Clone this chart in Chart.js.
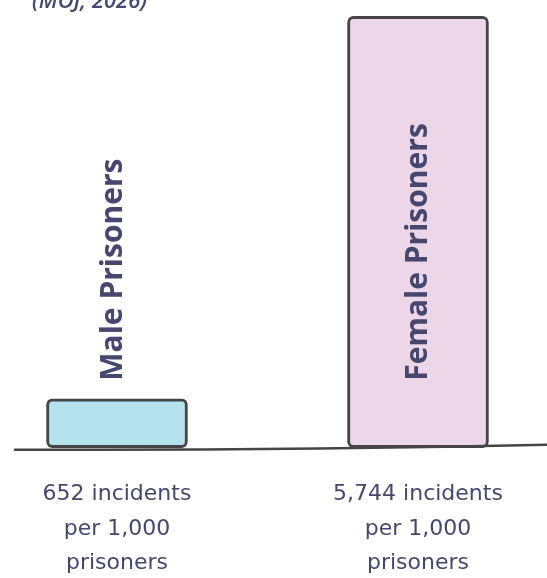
<!DOCTYPE html>
<html>
<head>
<meta charset="utf-8">
<script src="https://cdn.jsdelivr.net/npm/chart.js@4"></script>
<style>
  html, body { margin: 0; padding: 0; background: #fff; }
  #wrap { width: 547px; height: 578px; }
</style>
</head>
<body>
<div id="wrap"><canvas id="myChart"></canvas></div>
<script>
var categories = ['Male Prisoners', 'Female Prisoners'];
var incidentsPer1000 = [652, 5744];
var barColours = ['#b4e3ee', '#ecd6e7'];
var sourceNote = '(MOJ, 2026)';

var inkColour = '#45476f';
var lineColour = '#454545';

// labels under each bar, built from the values
var tickLines = incidentsPer1000.map(function (v) {
    return [v.toLocaleString('en-GB') + ' incidents', 'per 1,000', 'prisoners'];
});

var sketchPlugin = {
    id: 'sketch',
    afterDatasetsDraw: function (chart) {
        var ctx = chart.ctx;
        var y0 = chart.scales.y.getPixelForValue(0);

        // ground line
        ctx.save();
        ctx.strokeStyle = lineColour;
        ctx.lineWidth = 2.5;
        ctx.lineCap = 'round';
        ctx.beginPath();
        ctx.moveTo(15, y0 + 2);
        ctx.quadraticCurveTo(280, y0 + 3, 547, y0 - 3);
        ctx.stroke();
        ctx.restore();

        // names written up the bars
        var bars = chart.getDatasetMeta(0).data;
        ctx.save();
        ctx.fillStyle = inkColour;
        ctx.font = 'bold 30px "Open Sans"';
        ctx.textAlign = 'left';
        ctx.textBaseline = 'middle';
        bars.forEach(function (bar, i) {
            ctx.save();
            ctx.translate(bar.x - 4 + i * 4, y0 - 67);
            ctx.rotate(-Math.PI / 2);
            ctx.fillText(categories[i], 0, 0);
            ctx.restore();
        });
        ctx.restore();

        // source note, cut at the top edge
        ctx.save();
        ctx.fillStyle = inkColour;
        ctx.font = 'italic 600 22px "Open Sans"';
        ctx.textAlign = 'left';
        ctx.textBaseline = 'alphabetic';
        ctx.fillText(sourceNote, 32, 8);
        ctx.restore();
    }
};

new Chart('myChart', {
    type: 'bar',
    data: {
        labels: categories,
        datasets: [{
            data: incidentsPer1000,
            backgroundColor: barColours,
            borderColor: lineColour,
            borderWidth: 3,
            borderRadius: 6,
            borderSkipped: false,
            barThickness: 141,
            clip: false
        }]
    },
    options: {
        responsive: true,
        maintainAspectRatio: false,
        animation: false,
        layout: { padding: { left: 117, right: 129, top: 0, bottom: -32 } },
        plugins: {
            legend: { display: false },
            tooltip: { enabled: false }
        },
        scales: {
            x: {
                type: 'category',
                offset: false,
                grid: { display: false, drawTicks: false },
                border: { display: false },
                ticks: {
                    padding: 30,
                    color: inkColour,
                    font: { family: 'DejaVu Sans', size: 22, lineHeight: 1.55 },
                    maxRotation: 0,
                    autoSkip: false,
                    callback: function (val, i) { return tickLines[i]; }
                }
            },
            y: {
                display: false,
                min: 0,
                max: 5960
            }
        }
    },
    plugins: [sketchPlugin]
});
</script>
</body>
</html>
